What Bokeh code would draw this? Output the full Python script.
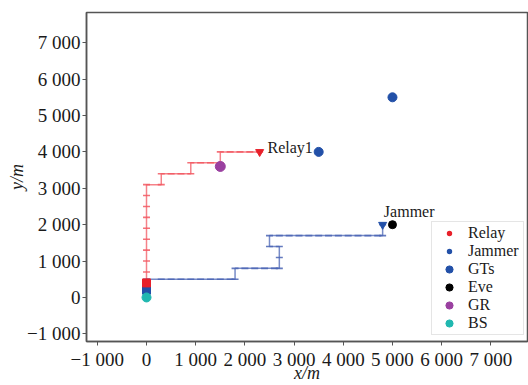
from bokeh.plotting import figure
from bokeh.models import Range1d, FixedTicker, Legend, LegendItem, Label
from bokeh.embed import file_html
from bokeh.resources import INLINE

NAN = float("nan")

# ---------------- data ----------------
relay_x = [0, 0, 0, 0, 0, 0, 0, 0, 0, 0, 300, 300, 500, 700, 900, 900, 1100, 1300, 1500, 1500, 1700, 1900, 2100, 2300]
relay_y = [400, 700, 1000, 1300, 1600, 1900, 2200, 2500, 2800, 3100, 3100, 3400, 3400, 3400, 3400, 3700, 3700, 3700, 3700, 4000, 4000, 4000, 4000, 4000]

jam_x = [0, 300, 500, 700, 900, 1100, 1300, 1500, 1700, 1800, 1800, 2000, 2200, 2400, 2600, 2700, 2700, 2700, 2500, 2500,
         2700, 2900, 3100, 3300, 3500, 3700, 3900, 4100, 4300, 4500, 4700, 4800, 4800]
jam_y = [500, 500, 500, 500, 500, 500, 500, 500, 500, 500, 800, 800, 800, 800, 800, 800, 1100, 1400, 1400, 1700,
         1700, 1700, 1700, 1700, 1700, 1700, 1700, 1700, 1700, 1700, 1700, 1700, 2000]

relay_start_x = [0]
relay_start_y = [400]
jam_start_x = [0]
jam_start_y = [200]

gt_x = [3500, 5000]
gt_y = [4000, 5500]
eve_x = [5000]
eve_y = [2000]
gr_x = [1500]
gr_y = [3600]
bs_x = [0]
bs_y = [0]

ann_text = ["Relay1", "Jammer"]
ann_x = [2459, 4825]
ann_y = [4120, 2371]

tick_vals = [-1000, 0, 1000, 2000, 3000, 4000, 5000, 6000, 7000]
tick_labels = ["\u22121 000", "0", "1 000", "2 000", "3 000", "4 000", "5 000", "6 000", "7 000"]

legend_labels = ["Relay", "Jammer", "GTs", "Eve", "GR", "BS"]
x_title = "x/m"
y_title = "y/m"

# ---------------- style ----------------
FONT = "Liberation Serif"
RED_LINE = "#f25862"
RED = "#e8202a"
BLUE_LINE = "#4a64b4"
BLUE = "#2250a8"
PURPLE = "#9a40a0"
TEAL = "#20b8b0"
TXT = "#1a1a1a"

p = figure(width=528, height=385, output_backend="svg", toolbar_location=None,
           x_range=Range1d(-1220, 7745), y_range=Range1d(-1210, 7830),
           min_border_left=86, min_border_right=1, min_border_top=12, min_border_bottom=44)
p.background_fill_color = "white"
p.border_fill_color = "white"
p.outline_line_color = "#555555"
p.outline_line_width = 1.5
p.xgrid.visible = False
p.ygrid.visible = False

p.xaxis.axis_label = x_title
p.yaxis.axis_label = y_title

for ax in (p.xaxis[0], p.yaxis[0]):
    ax.ticker = FixedTicker(ticks=tick_vals)
    ax.major_label_overrides = {v: s for v, s in zip(tick_vals, tick_labels)}
    ax.major_label_text_font = FONT
    ax.major_label_text_font_size = "19px"
    ax.major_label_text_color = TXT
    ax.axis_line_color = "#555555"
    ax.axis_line_width = 1.5
    ax.major_tick_line_color = "#555555"
    ax.major_tick_out = 4
    ax.major_tick_in = 0
    ax.minor_tick_line_color = None
    ax.axis_label_text_font = FONT
    ax.axis_label_text_font_size = "18px"
    ax.axis_label_text_font_style = "italic"
    ax.axis_label_text_color = TXT

p.xaxis[0].major_label_standoff = 3
p.xaxis[0].axis_label_standoff = -10
p.yaxis[0].major_label_standoff = 2
p.yaxis[0].axis_label_standoff = -3

# trajectories
p.line(relay_x, relay_y, line_color=RED_LINE, line_width=1.5, line_alpha=0.75)
p.scatter(relay_x, relay_y, marker="dash", size=7, line_color=RED_LINE, line_width=1.6, line_alpha=0.85)
p.line(jam_x, jam_y, line_color=BLUE_LINE, line_width=1.5, line_alpha=0.75)
p.scatter(jam_x, jam_y, marker="dash", size=7, line_color=BLUE_LINE, line_width=1.6, line_alpha=0.85)

# end markers
p.scatter(relay_x[-1:], relay_y[-1:], marker="inverted_triangle", size=8, color=RED)
p.scatter(jam_x[-1:], jam_y[-1:], marker="inverted_triangle", size=8, color=BLUE)

# start markers
p.scatter(jam_start_x, jam_start_y, marker="square", size=8, color=BLUE)
p.scatter(relay_start_x, relay_start_y, marker="square", size=8, color=RED)

# nodes
r_gt = p.scatter(gt_x, gt_y, marker="circle", size=9, color=BLUE)
r_eve = p.scatter(eve_x, eve_y, marker="circle", size=8, color="black")
r_gr = p.scatter(gr_x, gr_y, marker="circle", size=10, color=PURPLE)
r_bs = p.scatter(bs_x, bs_y, marker="circle", size=9, color=TEAL)

# legend-only renderers (not drawn in the plot; white ring makes the legend dot smaller)
r_relay_leg = p.scatter([NAN], [NAN], marker="circle", size=5, fill_color=RED, line_color="white", line_width=1.8)
r_jam_leg = p.scatter([NAN], [NAN], marker="circle", size=5, fill_color=BLUE, line_color="white", line_width=1.8)

for t, x, y in zip(ann_text, ann_x, ann_y):
    p.add_layout(Label(x=x, y=y, text=t, text_font=FONT, text_font_size="16px",
                       text_color=TXT, text_baseline="alphabetic", text_align="left"))

leg = Legend(items=[
    LegendItem(label=legend_labels[0], renderers=[r_relay_leg]),
    LegendItem(label=legend_labels[1], renderers=[r_jam_leg]),
    LegendItem(label=legend_labels[2], renderers=[r_gt]),
    LegendItem(label=legend_labels[3], renderers=[r_eve]),
    LegendItem(label=legend_labels[4], renderers=[r_gr]),
    LegendItem(label=legend_labels[5], renderers=[r_bs]),
], location=(345, 6), glyph_height=18, glyph_width=30, label_height=18, label_width=53,
    spacing=0, padding=2, margin=0, label_standoff=4,
    label_text_font=FONT, label_text_font_size="16px", label_text_color=TXT,
    border_line_color="#cccccc", border_line_width=1,
    background_fill_color="white", background_fill_alpha=0.85)
p.add_layout(leg)

open("out.html", "w").write(file_html(p, INLINE))
